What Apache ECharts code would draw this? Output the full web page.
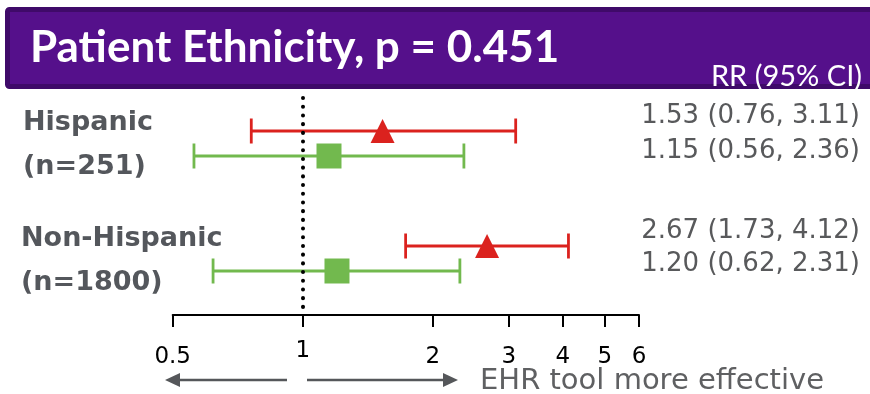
<!DOCTYPE html>
<html>
<head>
<meta charset="utf-8">
<script src="https://cdn.jsdelivr.net/npm/echarts@6/dist/echarts.min.js"></script>
<style>
html,body{margin:0;padding:0;background:#fff;}
#main{width:870px;height:394px;}
</style>
</head>
<body>
<div id="main"></div>
<script>
// ---- data ----
var groups = ['Hispanic', 'Non-Hispanic'];
var groupN = [251, 1800];
var seriesNames = ['Tool A', 'Tool B'];
// RR and 95% CI per group for each series
var redRR = [1.53, 2.67];
var redLo = [0.76, 1.73];
var redHi = [3.11, 4.12];
var greenRR = [1.15, 1.20];
var greenLo = [0.56, 0.62];
var greenHi = [2.36, 2.31];
var tickValues = [0.5, 1, 2, 3, 4, 5, 6];
var titleText = 'Patient Ethnicity, p = 0.451';
var rrHeader = 'RR (95% CI)';
var arrowText = 'EHR tool more effective';

// ---- layout helpers ----
var GROUP_GAP = 4.6;
function rowY(g, s) { return g * GROUP_GAP + s; }
var ln = Math.log;
var COND = 'Lato, "Open Sans", sans-serif';
var WIDE = '"DejaVu Sans", Verdana, sans-serif';

var chart = echarts.init(document.getElementById('main'));

var sets = [
  { rr: redRR, lo: redLo, hi: redHi, color: '#db221e', symbol: 'triangle', size: [24, 24] },
  { rr: greenRR, lo: greenLo, hi: greenHi, color: '#72b94e', symbol: 'rect', size: [25, 25] }
];

var series = [];
sets.forEach(function (st, s) {
  var ciData = groups.map(function (g, gi) { return [ln(st.lo[gi]), ln(st.hi[gi]), rowY(gi, s)]; });
  series.push({
    type: 'custom',
    name: seriesNames[s] + ' CI',
    z: 3,
    renderItem: function (params, api) {
      var p1 = api.coord([api.value(0), api.value(2)]);
      var p2 = api.coord([api.value(1), api.value(2)]);
      var h = 12.5;
      var style = { stroke: st.color, lineWidth: 2.8 };
      return {
        type: 'group',
        children: [
          { type: 'line', shape: { x1: p1[0], y1: p1[1], x2: p2[0], y2: p2[1] }, style: style },
          { type: 'line', shape: { x1: p1[0], y1: p1[1] - h, x2: p1[0], y2: p1[1] + h }, style: style },
          { type: 'line', shape: { x1: p2[0], y1: p2[1] - h, x2: p2[0], y2: p2[1] + h }, style: style }
        ]
      };
    },
    encode: { x: [0, 1], y: 2 },
    data: ciData
  });
  series.push({
    type: 'scatter',
    name: seriesNames[s],
    z: 4,
    symbol: st.symbol,
    symbolSize: st.size,
    itemStyle: { color: st.color, opacity: 1 },
    data: groups.map(function (g, gi) { return [ln(st.rr[gi]), rowY(gi, s)]; })
  });
});

// reference line at RR = 1
series.push({
  type: 'line',
  data: [],
  markLine: {
    silent: true,
    symbol: 'none',
    label: { show: false },
    lineStyle: { color: '#000', width: 4, type: [0.1, 8.6], cap: 'round' },
    data: [{ xAxis: ln(1) }]
  }
});

// text graphics
var graphics = [];
graphics.push({
  type: 'rect', z: 1,
  shape: { x: 7.5, y: 9.5, width: 880, height: 77, r: 2 },
  style: { fill: '#55108b', stroke: '#3f0a69', lineWidth: 5 }
});
graphics.push({
  type: 'text', z: 2, x: 30, y: 48,
  style: { text: titleText, font: 'bold 44px ' + COND, fill: '#ffffff', align: 'left', verticalAlign: 'middle' }
});
graphics.push({
  type: 'text', z: 2, x: 862, y: 77,
  style: { text: rrHeader, font: '29px ' + COND, fill: '#ffffff', align: 'right', verticalAlign: 'middle' }
});
var labelY = [[123, 167], [239, 283]];
var labelX = [23, 21];
groups.forEach(function (g, gi) {
  graphics.push({ type: 'text', x: labelX[gi], y: labelY[gi][0],
    style: { text: g, font: 'bold 27px ' + WIDE, fill: '#54575c', align: 'left', verticalAlign: 'middle' } });
  graphics.push({ type: 'text', x: labelX[gi], y: labelY[gi][1],
    style: { text: '(n=' + groupN[gi] + ')', font: 'bold 27px ' + WIDE, fill: '#54575c', align: 'left', verticalAlign: 'middle' } });
});
var rrY = [[116, 151], [231, 264]];
sets.forEach(function (st, s) {
  groups.forEach(function (g, gi) {
    var txt = st.rr[gi].toFixed(2) + ' (' + st.lo[gi].toFixed(2) + ', ' + st.hi[gi].toFixed(2) + ')';
    graphics.push({ type: 'text', x: 860, y: rrY[gi][s],
      style: { text: txt, font: '26px ' + WIDE, fill: '#58595b', align: 'right', verticalAlign: 'middle' } });
  });
});
// arrows
var AC = '#55575a';
graphics.push({ type: 'line', shape: { x1: 287, y1: 380, x2: 178, y2: 380 }, style: { stroke: AC, lineWidth: 2.5 } });
graphics.push({ type: 'polygon', shape: { points: [[165, 380], [180, 373], [180, 387]] }, style: { fill: AC } });
graphics.push({ type: 'line', shape: { x1: 307, y1: 380, x2: 445, y2: 380 }, style: { stroke: AC, lineWidth: 2.5 } });
graphics.push({ type: 'polygon', shape: { points: [[458, 380], [443, 373], [443, 387]] }, style: { fill: AC } });
graphics.push({ type: 'text', x: 480, y: 381,
  style: { text: arrowText, font: '29px ' + WIDE, fill: '#5f6062', align: 'left', verticalAlign: 'middle' } });

var xMin = ln(tickValues[0]), xMax = ln(tickValues[tickValues.length - 1]);
function fmt(v) { return String(Number(Math.exp(v).toFixed(2))); }
var otherTicks = tickValues.filter(function (t) { return t !== 1; }).map(ln);
var tickFont = { color: '#000', fontSize: 23, fontFamily: WIDE };

chart.setOption({
  animation: false,
  backgroundColor: '#ffffff',
  grid: { left: 172.7, right: 231, top: 98, bottom: 79, containLabel: false },
  xAxis: [{
    type: 'value', min: xMin, max: xMax, position: 'bottom',
    splitLine: { show: false },
    axisLine: { show: true, onZero: false, lineStyle: { color: '#000', width: 2 } },
    axisTick: { show: true, length: 12, inside: false, lineStyle: { color: '#000', width: 2 }, customValues: tickValues.map(ln) },
    axisLabel: Object.assign({ customValues: otherTicks, formatter: fmt, margin: 31 }, tickFont)
  }, {
    type: 'value', min: xMin, max: xMax, position: 'bottom',
    splitLine: { show: false },
    axisLine: { show: false, onZero: false }, axisTick: { show: false },
    axisLabel: Object.assign({ customValues: [ln(1)], formatter: fmt, margin: 25 }, tickFont)
  }],
  yAxis: { type: 'value', inverse: true, min: -1.32, max: 7.36, show: false, splitLine: { show: false } },
  series: series,
  graphic: graphics
});
</script>
</body>
</html>
